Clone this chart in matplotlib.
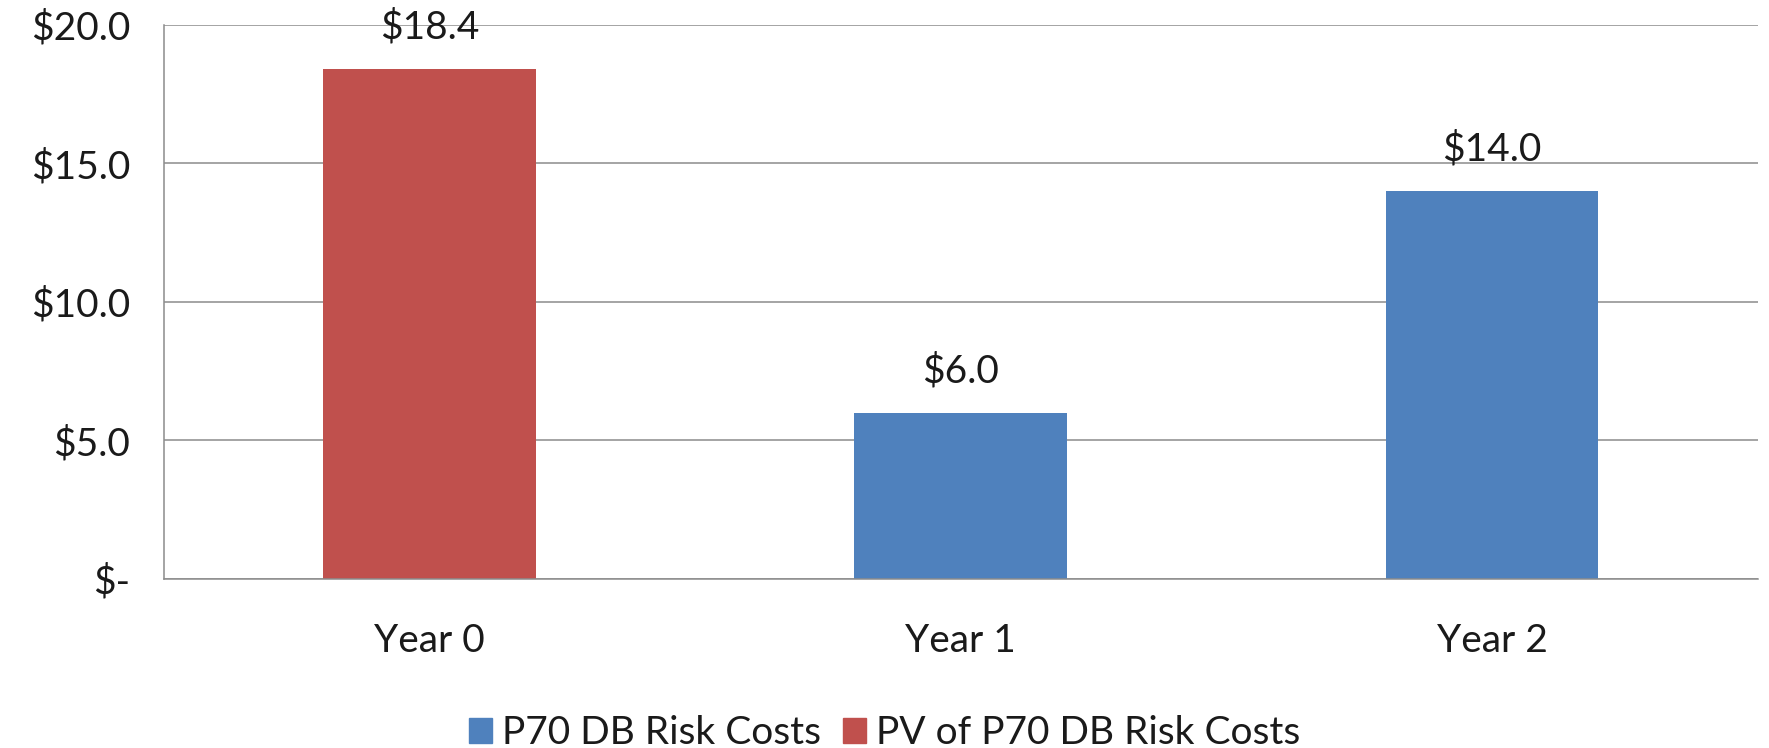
import matplotlib
matplotlib.use("Agg")
import matplotlib.pyplot as plt
from matplotlib.patches import Patch
import numpy as np

categories = ["Year 0", "Year 1", "Year 2"]
p70_costs = [None, 6.0, 14.0]          # P70 DB Risk Costs
pv_p70_costs = [18.4, None, None]      # PV of P70 DB Risk Costs
y_ticks = [0, 5, 10, 15, 20]
y_tick_labels = ["$-", "$5.0", "$10.0", "$15.0", "$20.0"]

BLUE = "#4F81BD"
RED = "#C0504D"
GRID = "#8C8C8C"
TEXT = "#1A1A1A"
FS = 28

plt.rcParams["font.family"] = ["Lato", "DejaVu Sans"]

fig = plt.figure(figsize=(17.69, 7.48), dpi=100)
ax = fig.add_axes([0.0925, 0.2262, 0.9012, 0.7406])

x = np.arange(len(categories))
width = 0.4

def draw_series(values, color):
    xs = [xi for xi, v in zip(x, values) if v is not None]
    vs = [v for v in values if v is not None]
    bars = ax.bar(xs, vs, width=width, color=color, zorder=3)
    for b, v in zip(bars, vs):
        ax.annotate(f"${v:.1f}", (b.get_x() + b.get_width() / 2, v),
                    xytext=(0, 22), textcoords="offset points",
                    ha="center", va="baseline", fontsize=FS, color=TEXT)
    return bars

draw_series(p70_costs, BLUE)
draw_series(pv_p70_costs, RED)

ax.set_xlim(-0.5, 2.5)
ax.set_ylim(0, 20)
ax.set_yticks(y_ticks)
ax.set_yticklabels(y_tick_labels)
ax.set_xticks(x)
ax.set_xticklabels(categories)
ax.tick_params(axis="y", length=0, pad=24, labelsize=FS, labelcolor=TEXT)
ax.tick_params(axis="x", length=0, pad=32, labelsize=FS, labelcolor=TEXT)

ax.yaxis.grid(True, color=GRID, linewidth=1.1, zorder=0)
ax.set_axisbelow(True)
for side in ("top", "right"):
    ax.spines[side].set_visible(False)
for side in ("left", "bottom"):
    ax.spines[side].set_color(GRID)
    ax.spines[side].set_linewidth(1.1)
    ax.spines[side].set_zorder(4)

handles = [Patch(color=BLUE, label="P70 DB Risk Costs"),
           Patch(color=RED, label="PV of P70 DB Risk Costs")]
fig.legend(handles=handles, loc="center", bbox_to_anchor=(0.5, 0.02),
           ncol=2, frameon=False, fontsize=FS, handlelength=0.6,
           handleheight=0.6, handletextpad=0.25, columnspacing=0.55,
           labelcolor=TEXT)

fig.savefig("out.png", dpi=100)
